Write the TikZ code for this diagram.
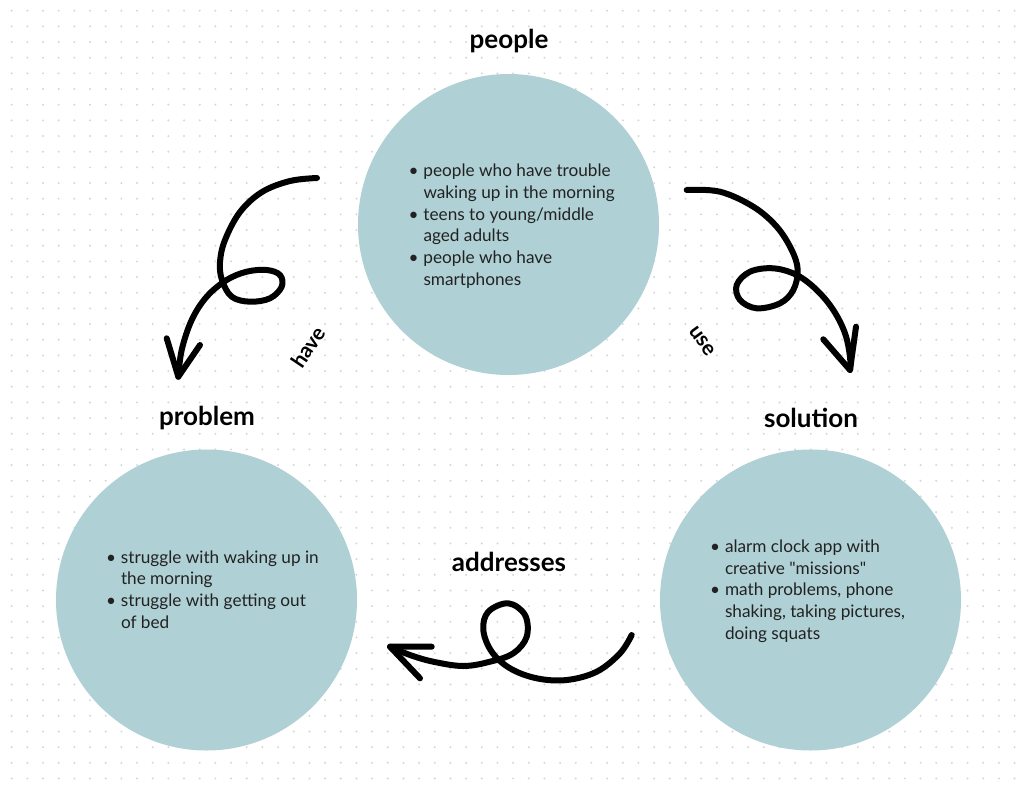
\documentclass[tikz,border=0pt]{standalone}
\usepackage{fontspec}
\setmainfont{Lato}
\usetikzlibrary{positioning}
\definecolor{blobfill}{HTML}{AFD0D4}
\definecolor{dotgray}{HTML}{D6D6DA}
\definecolor{notegray}{HTML}{222222}
\newcommand{\bul}{\makebox[14.8pt][l]{\textbullet}}
\newcommand{\ind}{\hspace*{14.8pt}}

\begin{document}
\begin{tikzpicture}[x=1pt, y=-1pt]
		\tikzstyle{blob} = [circle, fill=blobfill, minimum size=301pt, inner sep=0pt];
		\tikzstyle{title} = [font=\fontsize{26}{30}\selectfont\bfseries];
		\tikzstyle{notes} = [anchor=base west, inner sep=0pt, align=left, text=notegray, font=\fontsize{17.2}{21.7}\selectfont];
		\tikzstyle{verb} = [font=\fontsize{21}{24}\selectfont\bfseries];
		\tikzstyle{curl} = [line width=6pt, line cap=round, line join=round];
		
		% page and dotted paper
		\fill[white] (0,0) rectangle (1024,792);
		\foreach \i in {0,...,64}
		\foreach \j in {0,...,49}
		\fill[dotgray] ({11.67+15.67*\i},{10.67+15.67*\j}) circle (1.1);
		
		\node[blob](people) at (508.5,224.5){};
		\node[blob](problem) at (206.5,600){};
		\node[blob](solution) at (810.5,600){};
		
		\node[title](people title) at (509,41){people};
		\node[title](problem title) at (207,418){problem};
		\node[title](solution title) at (811,418){solution};
		\node[title](addresses) at (509,562){addresses};
		
		% base anchor sits on the last line
		\node[notes](people notes) at (408.5,285.2){\bul people who have trouble\\ \ind waking up in the morning\\ \bul teens to young/middle\\ \ind aged adults\\ \bul people who have\\ \ind smartphones};
		\node[notes](problem notes) at (106,628.1){\bul struggle with waking up in\\ \ind the morning\\ \bul struggle with getting out\\ \ind of bed};
		\node[notes](solution notes) at (710,639.3){\bul alarm clock app with\\ \ind creative \textquotedbl missions\textquotedbl\\ \bul math problems, phone\\ \ind shaking, taking pictures,\\ \ind doing squats};
		
		\node[verb, rotate=56](have) at (308,347){have};
		\node[verb, rotate=-54](use) at (702,341){use};
		
		% hand drawn curls
		\coordinate (haveS) at (317,178);
		\coordinate (haveE) at (178.3,376.7);
		\coordinate (useS) at (686.7,190);
		\coordinate (useE) at (850,370);
		\coordinate (addrS) at (631.7,635);
		\coordinate (addrE) at (390,646.7);
		
		\draw[curl] plot[smooth, tension=0.6] coordinates {(haveS) (290,181) (262,192) (240,212) (225,240) (220,262) (222,280) (231.7,296.7) (250,301.7) (270,298.3) (281.7,286.7) (280,275) (266.7,270) (246.7,271.7) (226.7,280) (206.7,296.7) (191.7,320) (181.7,350) (haveE)};
		\draw[curl] (haveE) -- (166.7,338.3) (haveE) -- (200,345);
		
		\draw[curl] plot[smooth, tension=0.6] coordinates {(useS) (720,191.7) (753.3,206.7) (776.7,226.7) (791.7,250) (797.7,270) (793.3,290) (780,303.3) (756.7,308.3) (740,300) (736.7,285) (750,271.7) (773.3,268.3) (796.7,275) (816.7,290) (833.3,310) (845,333.3) (850,356.7) (useE)};
		\draw[curl] (useE) -- (823.3,339.3) (useE) -- (856,326.7);
		
		\draw[curl] plot[smooth, tension=0.6] coordinates {(addrS) (620,653.3) (596.7,671.7) (566.7,680) (536.7,678.3) (510,668.3) (491.7,651.7) (483.3,630) (488.3,611.7) (508.3,603.3) (525,615) (526.7,636.7) (513.3,653.3) (490,661.7) (463.3,666) (433.3,661.7) (410,655) (addrE)};
		\draw[curl] (addrE) -- (431.7,646.7) (addrE) -- (420,678.3);
\end{tikzpicture}
\end{document}
